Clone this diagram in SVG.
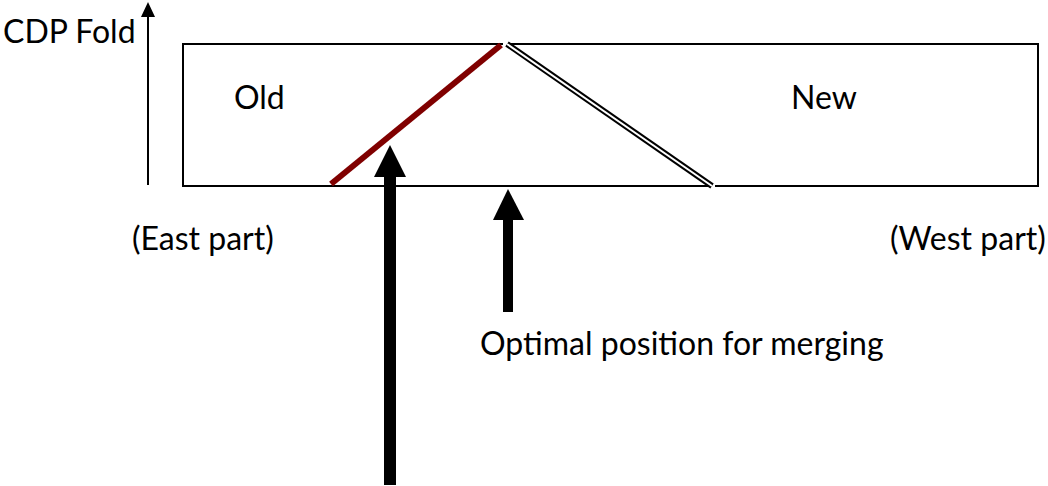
<svg xmlns="http://www.w3.org/2000/svg" width="1048" height="486" viewBox="0 0 1048 486">
<defs>
<style>
text{font-family:Lato,"Noto Sans","Liberation Sans",sans-serif;font-size:32px;fill:#000}
.ln{stroke:#000;stroke-width:2;fill:none}
</style>
</defs>
<rect width="1048" height="486" fill="#fff"/>
<g id="axis">
<line x1="148" y1="185" x2="148" y2="16" stroke="#000" stroke-width="2"/>
<polygon points="148,2 141,17 155,17" fill="#000"/>
<text x="3" y="43">CDP Fold</text>
</g>
<g id="section">
<polyline class="ln" points="503,44 183,44 183,186 710,186"/>
<polyline class="ln" points="510,44 1038,44 1038,186 715,186"/>
</g>
<g id="boundary">
<line x1="507" y1="44" x2="712" y2="186" stroke="#000" stroke-width="6"/>
<line x1="507" y1="44" x2="712" y2="186" stroke="#fff" stroke-width="2"/>
</g>
<g id="redline">
<line x1="331" y1="184" x2="501" y2="45" stroke="#800000" stroke-width="6"/>
</g>
<g id="labels">
<text x="234" y="109">Old</text>
<text x="791" y="109">New</text>
<text x="132" y="250">(East part)</text>
<text x="890" y="250">(West part)</text>
<text x="480" y="355">Optimal position for merging</text>
</g>
<g id="connectors">
<rect x="384" y="176" width="12" height="309" fill="#000"/>
<polygon points="390,145 374,177 406,177" fill="#000"/>
<rect x="503" y="219" width="10" height="93" fill="#000"/>
<polygon points="508,189 493,220 524,220" fill="#000"/>
</g>
</svg>
